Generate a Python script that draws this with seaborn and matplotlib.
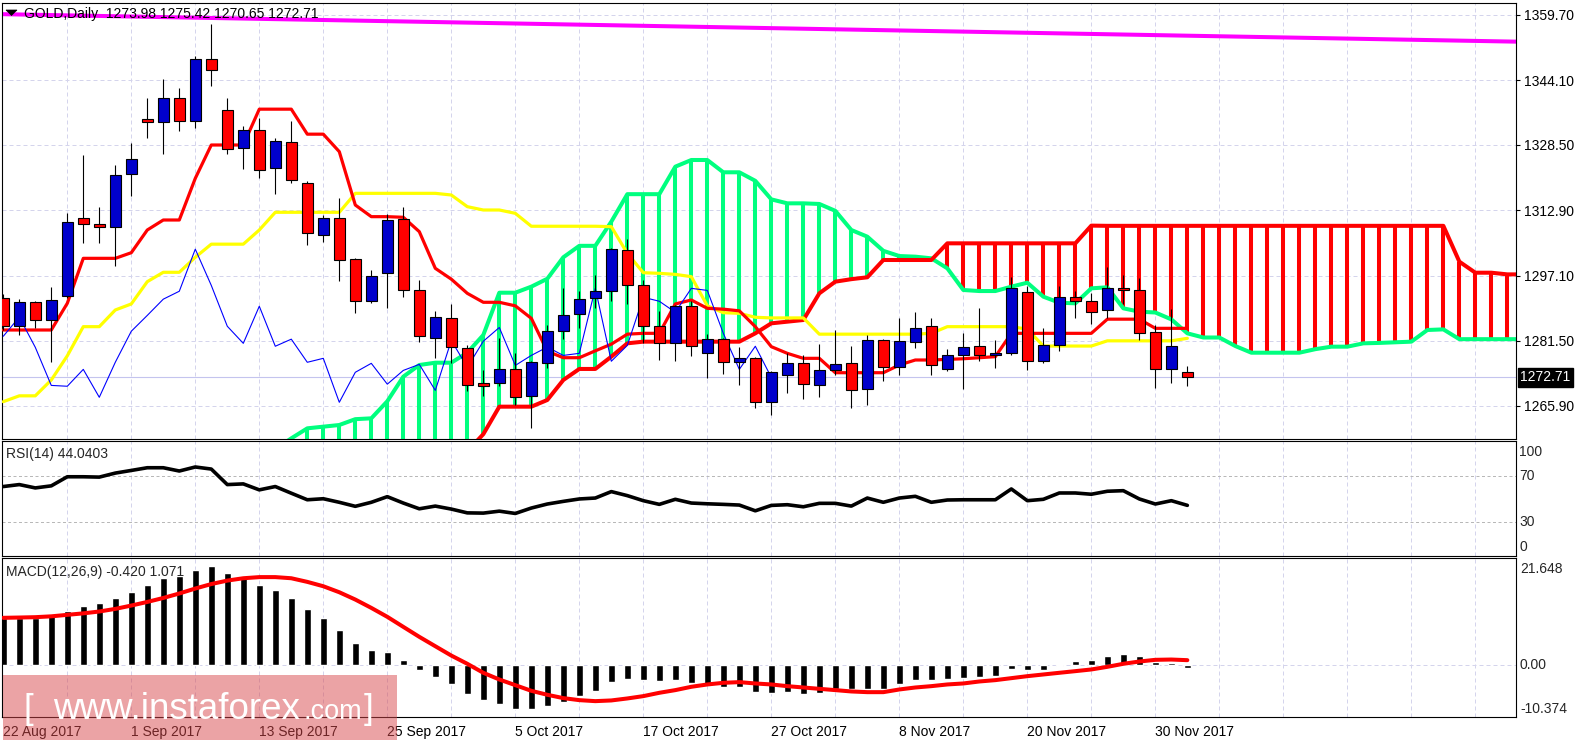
import numpy as np
import seaborn as sns
import matplotlib.pyplot as plt
from matplotlib.patches import Rectangle, Polygon

sns.set_style("white")
plt.rcParams['font.family'] = ['Liberation Sans', 'DejaVu Sans']
plt.rcParams['font.size'] = 10

# GOLD daily candles, 22 Aug 2017 .. 4 Dec 2017
opens = [1291.7, 1285.1, 1290.75, 1286.4, 1292.2, 1310.9, 1309.5, 1308.75, 1321.5, 1334.7,
         1334.0, 1339.7, 1334.2, 1349.1, 1336.8, 1327.7, 1332.0, 1322.9, 1329.2, 1319.3,
         1307.0, 1310.9, 1301.1, 1291.0, 1297.9, 1310.7, 1293.6, 1282.3, 1286.9, 1279.7,
         1271.5, 1271.5, 1274.65, 1268.2, 1276.1, 1283.8, 1287.9, 1291.7, 1293.4, 1303.2,
         1294.8, 1285.0, 1280.9, 1289.8, 1278.5, 1281.9, 1276.35, 1277.3, 1266.75, 1273.2,
         1276.1, 1270.8, 1274.4, 1276.1, 1269.9, 1281.6, 1275.15, 1281.15, 1285.0, 1274.65,
         1278.0, 1280.2, 1278.0, 1278.5, 1293.15, 1276.6, 1280.4, 1291.95, 1291.0, 1288.8,
         1294.1, 1293.6, 1283.55, 1274.65, 1273.98]
highs = [1292.7, 1291.5, 1291.1, 1294.5, 1312.1, 1326.1, 1313.6, 1323.7, 1328.9, 1339.7,
         1344.3, 1342.3, 1349.9, 1357.5, 1339.9, 1333.0, 1334.9, 1330.3, 1334.2, 1319.8,
         1311.6, 1315.9, 1301.5, 1298.4, 1311.9, 1313.55, 1296.0, 1288.6, 1290.3, 1280.5,
         1274.4, 1282.1, 1278.7, 1276.6, 1285.2, 1294.1, 1293.4, 1297.2, 1303.8, 1305.9,
         1296.0, 1288.6, 1290.1, 1291.0, 1283.1, 1282.2, 1280.0, 1277.6, 1274.2, 1278.7,
         1278.0, 1280.7, 1284.0, 1280.2, 1282.8, 1281.9, 1286.9, 1288.35, 1286.9, 1279.5,
         1283.3, 1289.3, 1281.6, 1296.75, 1294.6, 1284.5, 1294.6, 1293.4, 1292.9, 1299.15,
         1297.2, 1296.5, 1285.2, 1289.1, 1275.42]
lows = [1284.0, 1282.9, 1284.5, 1276.5, 1291.8, 1305.1, 1305.1, 1299.5, 1316.3, 1330.3,
        1326.3, 1331.8, 1332.5, 1342.7, 1326.4, 1322.7, 1320.7, 1316.7, 1319.5, 1304.4,
        1305.2, 1295.8, 1288.1, 1290.5, 1289.3, 1292.1, 1281.3, 1277.5, 1276.1, 1269.5,
        1268.2, 1270.6, 1266.0, 1260.5, 1274.9, 1281.9, 1284.5, 1289.5, 1291.0, 1290.3,
        1281.1, 1276.8, 1276.6, 1277.8, 1272.5, 1273.5, 1270.8, 1265.5, 1263.6, 1268.9,
        1267.5, 1268.0, 1273.2, 1265.3, 1266.0, 1271.8, 1273.2, 1279.7, 1273.2, 1274.2,
        1269.9, 1276.6, 1274.9, 1278.2, 1274.4, 1276.1, 1279.0, 1286.9, 1285.5, 1286.9,
        1290.3, 1281.6, 1270.1, 1271.5, 1270.65]
closes = [1285.1, 1290.75, 1286.4, 1291.2, 1309.9, 1309.5, 1308.75, 1321.2, 1325.1, 1334.0,
          1339.7, 1334.2, 1349.1, 1346.4, 1327.5, 1332.0, 1322.4, 1329.4, 1320.0, 1307.3,
          1310.9, 1300.8, 1291.0, 1297.0, 1310.4, 1293.6, 1282.6, 1287.2, 1279.95, 1270.8,
          1270.6, 1274.65, 1267.95, 1276.35, 1283.8, 1287.6, 1291.5, 1293.4, 1303.5, 1294.8,
          1285.0, 1280.9, 1289.8, 1280.2, 1281.9, 1276.35, 1277.3, 1266.75, 1273.95, 1276.1,
          1271.1, 1274.4, 1275.85, 1269.6, 1281.6, 1275.15, 1281.4, 1284.7, 1275.6, 1278.0,
          1280.0, 1278.0, 1278.5, 1294.1, 1276.6, 1280.4, 1291.95, 1291.0, 1288.35, 1294.1,
          1293.6, 1283.3, 1274.65, 1280.2, 1272.71]

# Ichimoku lines
tenkan = [1284.1, 1284.1, 1284.1, 1284.1, 1290.5, 1301.3, 1301.3, 1301.3, 1302.65, 1308.1,
          1310.5, 1310.5, 1320.5, 1328.5, 1328.5, 1328.5, 1337.1, 1337.1, 1337.1, 1331.1,
          1331.1, 1326.9, 1314.1, 1311.3, 1311.3, 1311.15, 1307.7, 1298.9, 1296.3, 1292.9,
          1290.75, 1290.75, 1289.9, 1286.9, 1279.0, 1277.45, 1277.45, 1279.1, 1280.7, 1283.1,
          1283.3, 1283.3, 1290.35, 1291.3, 1289.3, 1289.1, 1288.7, 1284.9, 1280.1, 1278.5,
          1277.3, 1277.3, 1273.85, 1273.85, 1273.85, 1273.85, 1275.7, 1276.9, 1276.9, 1277.05,
          1277.2, 1277.45, 1277.7, 1283.3, 1283.3, 1283.3, 1283.3, 1283.3, 1283.3, 1286.7,
          1286.7, 1286.7, 1284.5, 1284.5, 1284.5]
kijun = [1266.9, 1268.3, 1268.3, 1272.1, 1277.9, 1284.9, 1284.9, 1288.9, 1290.35, 1295.7,
         1297.95, 1297.95, 1301.55, 1304.7, 1304.7, 1304.7, 1308.1, 1312.35, 1312.35, 1312.35,
         1312.35, 1312.35, 1316.9, 1316.9, 1316.9, 1316.9, 1316.9, 1316.9, 1316.5, 1313.7,
         1312.9, 1312.9, 1312.1, 1309.0, 1309.0, 1309.0, 1309.0, 1309.0, 1308.9, 1302.5,
         1297.85, 1297.7, 1297.45, 1296.9, 1289.9, 1288.25, 1288.1, 1287.15, 1287.0, 1287.0,
         1287.0, 1283.1, 1283.1, 1283.1, 1283.1, 1283.1, 1283.1, 1283.1, 1283.3, 1284.9,
         1284.9, 1284.9, 1284.9, 1284.9, 1284.3, 1280.25, 1280.25, 1280.25, 1280.25, 1281.5,
         1281.5, 1281.5, 1281.5, 1281.5, 1282.1]
chikou_shift = 26
cloud_first_bar = 17
span_green = [1255.5, 1258.1, 1260.5, 1260.9, 1261.3, 1262.7, 1262.9, 1267.0, 1272.9, 1275.7,
              1276.25, 1276.25, 1278.65, 1282.9, 1293.05, 1293.05, 1294.5, 1296.4, 1301.55, 1304.3,
              1304.3, 1310.1, 1316.7, 1316.7, 1316.7, 1323.3, 1324.9, 1324.9, 1321.95, 1321.95,
              1319.9, 1315.45, 1314.5, 1314.5, 1314.35, 1312.7, 1308.1, 1306.5, 1303.1, 1301.85,
              1301.7, 1301.3, 1298.9, 1293.7, 1293.45, 1293.45, 1294.5, 1295.45, 1292.1, 1290.65,
              1290.5, 1294.1, 1294.35, 1289.3, 1288.5, 1288.3, 1286.65, 1283.3, 1282.3, 1282.3,
              1280.25, 1278.65, 1278.65, 1278.65, 1278.65, 1279.5, 1280.1, 1280.1, 1280.9, 1281.0,
              1281.15, 1281.3, 1284.1, 1284.25, 1281.9, 1281.9, 1281.9, 1281.9, 1281.9]
span_red = [1243.0, 1244.0, 1245.0, 1246.0, 1247.0, 1248.0, 1249.0, 1250.0, 1251.0, 1252.0,
            1253.0, 1254.0, 1255.0, 1259.1, 1265.7, 1265.7, 1265.7, 1267.3, 1272.1, 1274.75,
            1274.75, 1277.7, 1280.9, 1281.3, 1281.3, 1281.3, 1281.3, 1281.3, 1281.3, 1281.3,
            1283.3, 1285.7, 1286.1, 1286.5, 1292.9, 1295.7, 1296.3, 1296.75, 1300.9, 1300.9,
            1300.9, 1300.9, 1304.9, 1304.9, 1304.9, 1304.9, 1304.9, 1304.9, 1304.9, 1304.9,
            1304.9, 1309.15, 1309.1, 1309.1, 1309.1, 1309.1, 1309.1, 1309.1, 1309.1, 1309.1,
            1309.1, 1309.1, 1309.1, 1309.1, 1309.1, 1309.1, 1309.1, 1309.1, 1309.1, 1309.1,
            1309.1, 1309.1, 1309.1, 1309.1, 1300.5, 1297.85, 1297.85, 1297.45, 1297.45]
# magenta trend line (two anchor points)
trend_bars = [-0.1, 94.6]
trend_prices = [1359.9, 1353.3]

rsi = [60.4, 62.1, 59.2, 61.0, 68.9, 68.9, 68.6, 72.1, 74.4, 76.75,
       76.75, 73.9, 77.4, 75.6, 62.1, 62.7, 57.5, 60.4, 54.6, 48.9,
       49.8, 46.7, 43.2, 46.7, 51.6, 46.05, 41.05, 43.4, 40.8, 37.5,
       37.3, 39.0, 37.0, 41.7, 45.2, 47.5, 49.6, 50.4, 56.0, 52.5,
       48.1, 44.9, 49.3, 46.05, 45.4, 44.9, 44.3, 39.3, 44.0, 44.6,
       42.8, 45.8, 45.8, 43.4, 50.4, 46.7, 50.4, 51.9, 46.7, 48.7,
       48.9, 48.9, 48.9, 58.3, 48.1, 49.3, 54.8, 54.8, 53.7, 56.3,
       56.8, 49.6, 45.2, 48.1, 44.0403]
rsi_levels = [70, 30]

macd_hist = [9.6, 9.6, 9.6, 9.9, 11.07, 12.07, 12.5, 13.6, 14.8, 16.3,
             17.6, 18.1, 19.3, 20.0, 18.65, 17.6, 16.3, 15.3, 13.6, 11.3,
             9.66, 7.24, 4.56, 3.08, 2.75, 1.2, -0.94, -2.35, -3.82, -5.84,
             -7.04, -7.85, -8.85, -8.85, -8.18, -7.38, -6.17, -5.17, -3.35, -2.82,
             -3.02, -3.15, -3.02, -3.49, -3.82, -4.29, -4.29, -5.37, -5.63, -5.37,
             -5.84, -5.5, -4.83, -4.7, -4.7, -4.7, -3.82, -3.02, -3.02, -2.82,
             -2.48, -2.28, -2.15, -0.8, -0.94, -0.94, -0.15, 0.87, 1.2, 2.0,
             2.4, 2.0, 0.8, 0.5, -0.420]
macd_signal = [9.6, 9.66, 9.73, 9.9, 10.2, 10.5, 10.87, 11.4, 12.07, 12.8,
               13.6, 14.5, 15.5, 16.4, 17.1, 17.57, 17.8, 17.8, 17.57, 16.84,
               15.96, 14.75, 13.28, 11.6, 9.8, 7.78, 5.77, 3.88, 2.0, 0.34,
               -1.47, -2.82, -3.96, -5.1, -5.9, -6.57, -6.98, -7.18, -7.04, -6.64,
               -6.17, -5.5, -4.96, -4.29, -3.82, -3.49, -3.35, -3.62, -3.82, -4.16,
               -4.43, -4.7, -4.96, -5.23, -5.37, -5.37, -4.83, -4.43, -4.16, -3.82,
               -3.62, -3.22, -2.95, -2.55, -2.15, -1.81, -1.47, -1.14, -0.8, -0.27,
               0.34, 0.8, 1.14, 1.2, 1.071]
macd_range = [-10.374, 21.648]

price_levels = [1359.70, 1344.10, 1328.50, 1312.90, 1297.10, 1281.50, 1265.90]
date_bars = [0, 8, 16, 24, 32, 40, 48, 56, 64, 72]
date_labels = ['22 Aug 2017', '1 Sep 2017', '13 Sep 2017', '25 Sep 2017', '5 Oct 2017',
               '17 Oct 2017', '27 Oct 2017', '8 Nov 2017', '20 Nov 2017', '30 Nov 2017']

# ---------------------------------------------------------------
W, H = 1583, 744
PT = 0.72  # points per pixel at 100 dpi
GRID = '#d4d4ec'
GREEN = '#00ff7f'

fig = plt.figure(figsize=(W / 100, H / 100), dpi=100)
fig.patch.set_facecolor('white')


def panel(top, bottom):
    return fig.add_axes([2 / W, 1 - bottom / H, 1514 / W, (bottom - top) / H])


ax = panel(3, 439)
ax_rsi = panel(441, 556)
ax_macd = panel(558, 717)

bars = np.arange(len(closes))
for a in (ax, ax_rsi, ax_macd):
    a.set_xlim(-0.08, 94.54)
    for b in range(4, 95, 4):
        a.axvline(b, color=GRID, lw=PT, ls=(0, (4, 3)), zorder=0)
    for s in a.spines.values():
        s.set_color('black')
        s.set_linewidth(0.8)

# ---------------- main panel ----------------
ax.set_ylim(1257.94, 1362.58)
for lv in price_levels:
    ax.axhline(lv, color=GRID, lw=PT, ls=(0, (4, 3)), zorder=0)
ax.axhline(closes[-1], color='#c4c4ee', lw=0.8, zorder=0.5)

cb = np.arange(cloud_first_bar, cloud_first_bar + len(span_green))
g = np.array(span_green)
r = np.array(span_red)
up = g >= r
ax.vlines(cb[up], r[up], g[up], color=GREEN, lw=2.9, zorder=1)
ax.vlines(cb[~up], g[~up], r[~up], color='red', lw=2.9, zorder=1)
sns.lineplot(x=cb, y=g, ax=ax, color=GREEN, lw=2.9, zorder=2, estimator=None, legend=False)
sns.lineplot(x=cb, y=r, ax=ax, color='red', lw=2.9, zorder=2, estimator=None, legend=False)

sns.lineplot(x=trend_bars, y=trend_prices, ax=ax, color='#ff00ff', lw=2.9, zorder=2,
             estimator=None, legend=False)
sns.lineplot(x=bars, y=kijun, ax=ax, color='#ffff00', lw=2.3, zorder=3, estimator=None, legend=False)
sns.lineplot(x=bars, y=tenkan, ax=ax, color='red', lw=2.3, zorder=3, estimator=None, legend=False)
chikou_x = np.arange(len(closes) - chikou_shift)
sns.lineplot(x=chikou_x, y=closes[chikou_shift:], ax=ax, color='#0000ff', lw=0.8, zorder=3,
             estimator=None, legend=False)

o = np.array(opens)
c = np.array(closes)
body_col = np.where(c >= o, '#0000cc', '#ff0000')
ax.vlines(bars, lows, highs, color='black', lw=0.8, zorder=5)
ax.bar(bars, np.maximum(np.abs(c - o), 0.3), bottom=np.minimum(o, c), width=0.66,
       color=body_col, edgecolor='black', linewidth=0.8, zorder=6)

ax.set_xticks([])
ax.yaxis.tick_right()
ax.set_yticks(price_levels)
ax.set_yticklabels([f'{v:.2f}' for v in price_levels])
ax.tick_params(axis='y', length=3, width=0.8, pad=2.5, labelsize=10, colors='black', direction='out')
ax.set_xlabel('')
ax.set_ylabel('')
ax.annotate(f'{closes[-1]:.2f}', xy=(1, closes[-1]), xycoords=('axes fraction', 'data'),
            xytext=(4 * PT, 0), textcoords='offset points', ha='left', va='center',
            fontsize=10, color='white', annotation_clip=False,
            bbox=dict(boxstyle='square,pad=0.18', fc='black', ec='black'))

# ---------------- RSI panel ----------------
ax_rsi.set_ylim(0, 100)
for lv in rsi_levels:
    ax_rsi.axhline(lv, color='#b8b8b8', lw=PT, ls=(0, (3, 2.5)), zorder=0)
sns.lineplot(x=bars, y=rsi, ax=ax_rsi, color='black', lw=2.6, zorder=3, estimator=None, legend=False)
ax_rsi.set_xticks([])
ax_rsi.set_yticks([])
ax_rsi.set_xlabel('')
ax_rsi.set_ylabel('')


def side_label(a, val, text, dy=0, dx=3):
    a.annotate(text, xy=(1, val), xycoords=('axes fraction', 'data'),
               xytext=(dx * PT, -dy * PT), textcoords='offset points',
               ha='left', va='center', fontsize=10, annotation_clip=False)


side_label(ax_rsi, 100, '100', dy=11)
side_label(ax_rsi, 70, '70', dy=1)
side_label(ax_rsi, 30, '30', dy=1)
side_label(ax_rsi, 0, '0', dy=-9)

# ---------------- MACD panel ----------------
ax_macd.set_ylim(*macd_range)
ax_macd.axhline(0, color=GRID, lw=PT, ls=(0, (4, 3)), zorder=0)
ax_macd.bar(bars, macd_hist, width=0.45, color='black', zorder=2)
sns.lineplot(x=bars, y=macd_signal, ax=ax_macd, color='red', lw=2.9, zorder=3,
             estimator=None, legend=False)
ax_macd.set_yticks([])
ax_macd.set_xlabel('')
ax_macd.set_ylabel('')
side_label(ax_macd, macd_range[1], f'{macd_range[1]:.3f}', dy=11, dx=4)
side_label(ax_macd, 0, '0.00', dx=4)
side_label(ax_macd, macd_range[0], f'{macd_range[0]:.3f}', dy=-8, dx=4)
ax_macd.set_xticks(date_bars)
ax_macd.set_xticklabels(date_labels, ha='left')
ax_macd.tick_params(axis='x', length=3, width=0.8, pad=3, labelsize=10, colors='black', direction='out')

# ---------------- texts ----------------
# small drop-down triangle in the chart header
fig.add_artist(Polygon([(6 / W, 1 - 10 / H), (17 / W, 1 - 10 / H), (11.5 / W, 1 - 15.5 / H)],
                       closed=True, transform=fig.transFigure, fc='black', ec='black', lw=0.5))
fig.text(24 / W, 1 - 14 / H,
         'GOLD,Daily  ' + ' '.join(f'{v:.2f}' for v in (opens[-1], highs[-1], lows[-1], closes[-1])),
         fontsize=10, va='center', ha='left', color='black')
fig.text(6 / W, 1 - 454 / H, f'RSI(14) {rsi[-1]:.4f}', fontsize=10, va='center', ha='left')
fig.text(6 / W, 1 - 572 / H, f'MACD(12,26,9) {macd_hist[-1]:.3f} {macd_signal[-1]:.3f}',
         fontsize=10, va='center', ha='left')

# watermark
fig.add_artist(Rectangle((3 / W, 1 - 740 / H), 394 / W, 65 / H, transform=fig.transFigure,
                         fc='#d9494c', ec='none', alpha=0.5, zorder=10))
fig.text(24 / W, 1 - 719 / H, '[', fontsize=25, color='white', va='baseline', ha='left', zorder=11)
fig.text(53 / W, 1 - 719 / H, 'www.instaforex', fontsize=26.5, color='white', va='baseline',
         ha='left', zorder=11)
fig.text(303 / W, 1 - 719 / H, '.com', fontsize=19.5, color='white', va='baseline', ha='left', zorder=11)
fig.text(364 / W, 1 - 719 / H, ']', fontsize=25, color='white', va='baseline', ha='left', zorder=11)

fig.savefig('out.png', dpi=100)
